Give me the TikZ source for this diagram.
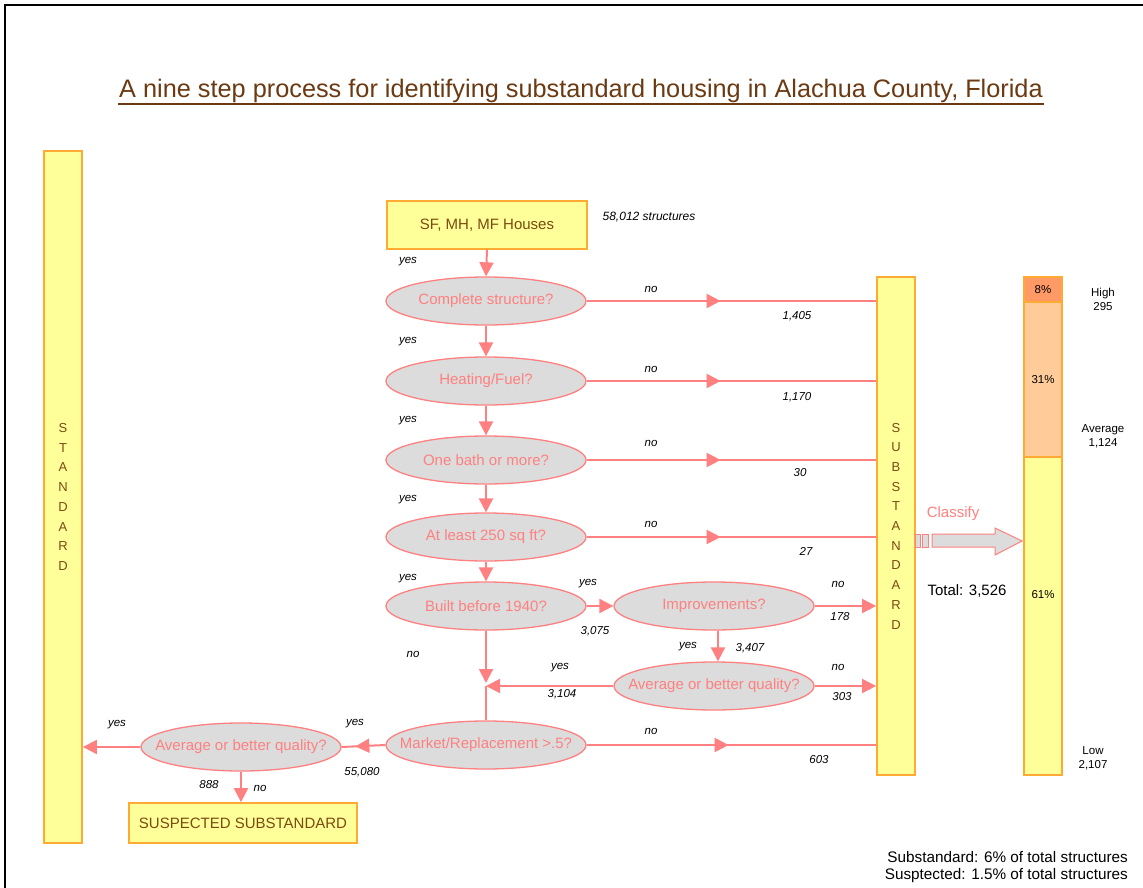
\documentclass[tikz,border=0pt]{standalone}
\usepackage{fontspec}
\setmainfont{Liberation Sans}
\usetikzlibrary{arrows.meta,shapes.geometric,decorations.markings}
\definecolor{ybox}{HTML}{FFFF99}
\definecolor{obord}{HTML}{FFAA33}
\definecolor{pinkc}{HTML}{FF8080}
\definecolor{greyf}{HTML}{DCDCDC}
\definecolor{brownt}{HTML}{7A4A12}
\definecolor{titlec}{HTML}{6B3A12}
\definecolor{highc}{HTML}{FF9966}
\definecolor{avgc}{HTML}{FFCC99}
\tikzset{
  tri/.tip={Triangle[length=14pt,width=14pt]},
  conn/.style={draw=pinkc, line width=2pt},
  arr/.style={conn, -{tri}},
  midarrow/.style={conn, postaction={decorate}, decoration={markings, mark=at position #1 with {\arrow[pinkc]{tri}}}},
  ell/.style={ellipse, draw=pinkc, fill=greyf, line width=1.3pt, minimum width=200pt, minimum height=48pt, inner sep=0pt},
  elltext/.style={text=pinkc, font=\fontsize{15}{16}\selectfont, inner sep=0pt},
  ybar/.style={draw=obord, fill=ybox, line width=1.8pt, minimum width=38pt, inner sep=0pt, align=center, text=brownt, font=\fontsize{13}{19.7}\selectfont},
  ybx/.style={draw=obord, fill=ybox, line width=1.8pt, inner sep=0pt, text=brownt, font=\fontsize{15}{16}\selectfont},
  seg/.style={draw=obord, line width=1.8pt, minimum width=38pt, inner sep=0pt, font=\fontsize{11.5}{12}\selectfont},
  lbl/.style={inner sep=0pt, font=\fontsize{11.5}{12}\selectfont\itshape},
  side/.style={inner sep=0pt, align=center, font=\fontsize{11.5}{14}\selectfont}
}
\begin{document}
\begin{tikzpicture}[x=1pt,y=-1pt]
\useasboundingbox (0,0) rectangle (1143,888);
\fill[white] (0,0) rectangle (1143,888);
% frame
\draw[black, line width=2.5pt] (5,888) -- (5,5) -- (1143,5);
% title
\node[inner sep=0pt, text=titlec, font=\fontsize{25.3}{30}\selectfont] (title) at (581,91) {A nine step process for identifying substandard housing in Alachua County, Florida};
\draw[titlec, line width=1.5pt] (118,104) -- (1044,104);
% bars
\node[ybar, minimum height=692pt] (std) at (63,497) {S\\T\\A\\N\\D\\A\\R\\D};
\node[ybar, minimum height=498pt] (sub) at (896,526) {S\\U\\B\\S\\T\\A\\N\\D\\A\\R\\D};
% classification bar
\node[seg, fill=highc, minimum height=25pt] (hi) at (1043,289.5) {8\%};
\node[seg, fill=avgc, minimum height=155pt] (av) at (1043,379.5) {};
\node[seg, fill=ybox, minimum height=318pt] (lo) at (1043,616) {};
\node[inner sep=0pt, font=\fontsize{11.5}{12}\selectfont] (p31) at (1043,380) {31\%};
\node[inner sep=0pt, font=\fontsize{11.5}{12}\selectfont] (p61) at (1043,595) {61\%};
\node[side] (hil) at (1103,299) {High\\295};
\node[side] (avl) at (1103,436) {Average\\1,124};
\node[side] (lol) at (1093,758) {Low\\2,107};
% boxes
\node[ybx, minimum width=200pt, minimum height=48pt] (sf) at (487,225) {SF, MH, MF Houses};
\node[lbl, font=\fontsize{12}{13}\selectfont\itshape] (cnt) at (649,217) {58,012 structures};
\node[ybx, minimum width=228pt, minimum height=40pt] (susp) at (243,823) {SUSPECTED SUBSTANDARD};
% ellipses
\node[ell, label={[elltext]center:Complete structure?}] (e1) at (486,301) {};
\node[ell, label={[elltext]center:Heating/Fuel?}] (e2) at (486,381) {};
\node[ell, label={[elltext]center:One bath or more?}] (e3) at (486,460) {};
\node[ell, label={[elltext]center:At least 250 sq ft?}] (e4) at (486,537) {};
\node[ell, label={[elltext]center:Built before 1940?}] (e5) at (486,606) {};
\node[ell, label={[elltext]center:Improvements?}] (e6) at (714,606) {};
\node[ell, label={[elltext]center:Average or better quality?}] (e7) at (714,686) {};
\node[ell, label={[elltext]center:Market/Replacement >.5?}] (e8) at (486,745) {};
\node[ell, label={[elltext]center:Average or better quality?}] (e9) at (241,747) {};
% vertical chain
\draw[arr] (sf.south) -- (e1.north);
\draw[arr] (e1.south) -- (e2.north);
\draw[arr] (e2.south) -- (e3.north);
\draw[arr] (e3.south) -- (e4.north);
\draw[arr] (e4.south) -- (e5.north);
% no-lines to SUBSTANDARD
\draw[midarrow=134pt] (e1.east) -- (e1.east -| sub.west);
\draw[midarrow=134pt] (e2.east) -- (e2.east -| sub.west);
\draw[midarrow=134pt] (e3.east) -- (e3.east -| sub.west);
\draw[midarrow=134pt] (e4.east) -- (e4.east -| sub.west);
\draw[midarrow=142pt] (e8.east) -- (e8.east -| sub.west);
% built / improvements / quality
\draw[arr] (e5.east) -- (e6.west);
\draw[arr] (e6.east) -- (e6.east -| sub.west);
\draw[arr] ([xshift=4pt]e6.south) -- ([xshift=4pt]e6.south |- e7.north);
\draw[arr] (e7.east) -- (e7.east -| sub.west);
\coordinate (j) at (e5.south |- e7.west);
\draw[arr, shorten >=3pt] (e5.south) -- (j);
\draw[arr] (e7.west) -- (j);
\draw[conn] (j) -- (e8.north);
% market / left quality
\draw[midarrow=30pt] (e8.west) -- (e9.east);
\draw[arr] (e9.west) -- (e9.west -| std.east);
\draw[arr] (e9.south) -- (e9.south |- susp.north);
% classify arrow
\draw[pinkc, fill=greyf, line width=1pt] (915,534) rectangle (920,547);
\draw[pinkc, fill=greyf, line width=1pt] (922,534) rectangle (928,547);
\draw[pinkc, fill=greyf, line width=1pt] (932,534) -- (995,534) -- (995,528) -- (1022,541) -- (995,555) -- (995,547) -- (932,547) -- cycle;
\node[inner sep=0pt, text=pinkc, font=\fontsize{15}{16}\selectfont] (cls) at (953,514) {Classify};
\node[inner sep=0pt, font=\fontsize{15}{16}\selectfont] (tot) at (967,591) {Total: 3,526};
% labels
\node[lbl] at (408,262) {yes};
\node[lbl] at (408,342) {yes};
\node[lbl] at (408,421) {yes};
\node[lbl] at (408,500) {yes};
\node[lbl] at (408,579) {yes};
\node[lbl] at (651,289) {no};
\node[lbl] at (651,369) {no};
\node[lbl] at (651,443) {no};
\node[lbl] at (651,524) {no};
\node[lbl] at (797,316) {1,405};
\node[lbl] at (797,397) {1,170};
\node[lbl] at (800,473) {30};
\node[lbl] at (806,551) {27};
\node[lbl] at (588,584) {yes};
\node[lbl] at (595,631) {3,075};
\node[lbl] at (838,584) {no};
\node[lbl] at (840,617) {178};
\node[lbl] at (688,647) {yes};
\node[lbl] at (750,648) {3,407};
\node[lbl] at (838,667) {no};
\node[lbl] at (842,697) {303};
\node[lbl] at (560,668) {yes};
\node[lbl] at (562,694) {3,104};
\node[lbl] at (413,654) {no};
\node[lbl] at (651,731) {no};
\node[lbl] at (819,760) {603};
\node[lbl] at (355,724) {yes};
\node[lbl] at (362,772) {55,080};
\node[lbl] at (117,725) {yes};
\node[lbl] at (209,785) {888};
\node[lbl] at (260,788) {no};
% bottom notes
\node[inner sep=0pt, anchor=east, font=\fontsize{15.3}{16}\selectfont] (n1) at (1128,857) {Substandard: 6\% of total structures};
\node[inner sep=0pt, anchor=east, font=\fontsize{15.3}{16}\selectfont] (n2) at (1128,876) {Susptected: 1.5\% of total structures};
\end{tikzpicture}
\end{document}
